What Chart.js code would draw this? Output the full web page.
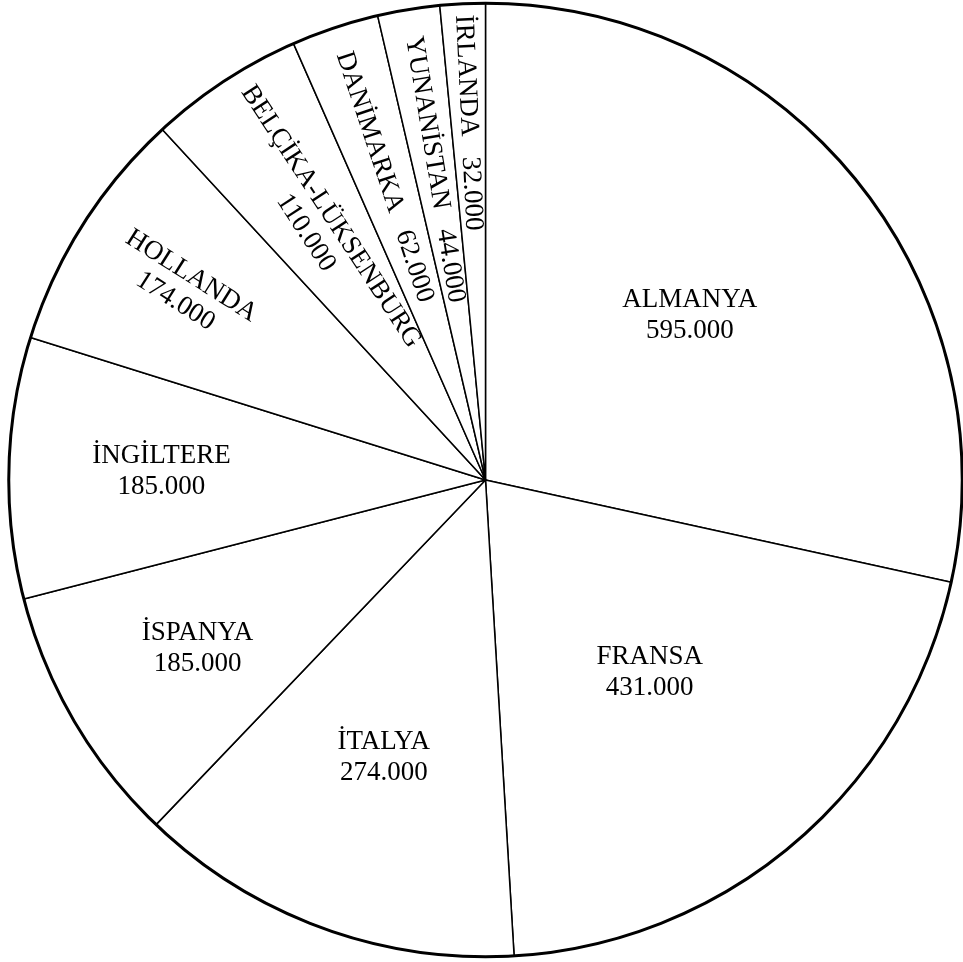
<!DOCTYPE html>
<html>
<head>
<meta charset="utf-8">
<script src="https://cdn.jsdelivr.net/npm/chart.js@4.4.1/dist/chart.umd.min.js"></script>
<style>
  html, body { margin: 0; padding: 0; background: #ffffff; }
  #wrap { width: 963px; height: 962px; }
</style>
</head>
<body>
<div id="wrap"><canvas id="pie"></canvas></div>
<script>
// Countries, clockwise from 12 o'clock
const countries = ['ALMANYA', 'FRANSA', 'İTALYA', 'İSPANYA', 'İNGİLTERE', 'HOLLANDA',
  'BELÇİKA-LÜKSENBURG', 'DANİMARKA', 'YUNANİSTAN', 'İRLANDA'];
const amounts = [595000, 431000, 274000, 185000, 185000, 174000, 110000, 62000, 44000, 32000];

// label placement: fraction of the radius, and whether the text runs along the radius
const labelRadius = [0.55, 0.53, 0.62, 0.70, 0.68, 0.75, 0.64, 0.67, 0.66, 0.75];
const labelMode = ['flat', 'flat', 'flat', 'flat', 'flat', 'radial2', 'radial2', 'radial1', 'radial1', 'radial1'];

const fmt = v => String(v).replace(/\B(?=(\d{3})+(?!\d))/g, '.');

const sliceLabels = {
    id: 'sliceLabels',
    afterDatasetsDraw(chart) {
        const ctx = chart.ctx;
        const meta = chart.getDatasetMeta(0);
        ctx.save();
        ctx.fillStyle = '#000000';
        ctx.font = '27px "Liberation Serif", "Times New Roman", serif';
        ctx.textAlign = 'center';
        ctx.textBaseline = 'middle';
        meta.data.forEach((arc, i) => {
            const mid = (arc.startAngle + arc.endAngle) / 2;
            const r = arc.outerRadius * labelRadius[i];
            const x = arc.x + r * Math.cos(mid);
            const y = arc.y + r * Math.sin(mid);
            const value = fmt(amounts[i]);
            ctx.save();
            ctx.translate(x, y);
            if (labelMode[i] === 'flat') {
                ctx.fillText(countries[i], 0, -15.5);
                ctx.fillText(value, 0, 15.5);
            } else if (labelMode[i] === 'radial2') {
                ctx.rotate(mid + Math.PI);
                ctx.fillText(countries[i], 0, -15);
                ctx.fillText(value, 0, 15);
            } else {
                ctx.rotate(mid + Math.PI);
                ctx.fillText(countries[i] + '   ' + value, 0, 0);
            }
            ctx.restore();
        });
        // heavier outer rim
        const a0 = meta.data[0];
        ctx.beginPath();
        ctx.arc(a0.x, a0.y, a0.outerRadius, 0, Math.PI * 2);
        ctx.lineWidth = 3;
        ctx.strokeStyle = '#000000';
        ctx.stroke();
        ctx.restore();
    }
};

const chart = new Chart(document.getElementById('pie').getContext('2d'), {
    type: 'pie',
    data: {
        labels: countries,
        datasets: [{
            data: amounts,
            backgroundColor: '#ffffff',
            borderColor: '#000000',
            borderWidth: 1.5,
            hoverBorderWidth: 1.5,
            hoverOffset: 0,
            offset: 0,
        }],
    },
    options: {
        responsive: true,
        maintainAspectRatio: false,
        animation: false,
        events: [],
        layout: { padding: { left: 8, right: 0, top: 2, bottom: 4 } },
        plugins: {
            legend: { display: false },
            tooltip: { enabled: false },
        },
    },
    plugins: [sliceLabels],
});
</script>
</body>
</html>
